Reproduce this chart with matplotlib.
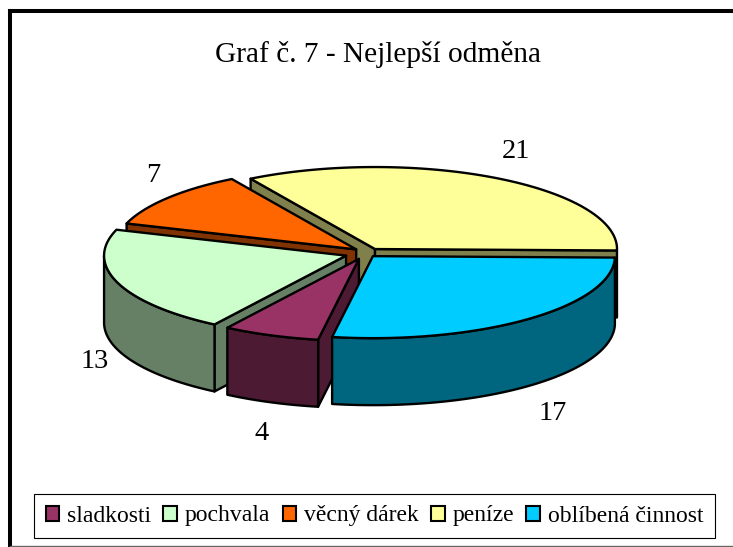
import numpy as np
import matplotlib
matplotlib.use("Agg")
import matplotlib.pyplot as plt
from matplotlib.patches import Polygon, Patch

title = "Graf č. 7 - Nejlepší odměna"
categories = ["sladkosti", "pochvala", "věcný dárek", "peníze", "oblíbená činnost"]
values = [4, 13, 7, 21, 17]
top_colors = ["#993366", "#CCFFCC", "#FF6600", "#FFFF99", "#00CCFF"]
side_colors = ["#4D1A33", "#668066", "#803300", "#80804D", "#006680"]

# pie layout in picture pixels
cx, cy = 364, 252.5
rx, ry = 242, 82
depth = 67
explode = [14, 19, 10, 22, 14]
shift_y = [2, 1, -1, 3, 0]
rotation = 1
draw_order = [3, 2, 1, 0, 4]
label_xy = [(262, 433), (95, 361), (153, 175), (516, 151), (553, 414)]

plt.rcParams["font.family"] = ["Liberation Serif", "DejaVu Serif"]

fig = plt.figure(figsize=(7.33, 5.47), dpi=100)
ax = fig.add_axes([0, 0, 1, 1])
ax.set_xlim(0, 733)
ax.set_ylim(547, 0)
ax.axis("off")

# frame, open on the right
ax.plot([10, 10], [11, 546], color="black", lw=2.9, solid_capstyle="projecting")
ax.plot([10, 733], [11, 11], color="black", lw=2.9, solid_capstyle="projecting")
ax.plot([10, 733], [546, 546], color="#666666", lw=1)

total = sum(values)
shares = np.array(values) / total * 360
ends = rotation + shares[-1] + np.cumsum(shares)
starts = ends - shares
starts = np.where(starts >= 360, starts - 360, starts)
ends = starts + shares


def rim_xy(x0, y0, a):
    t = np.radians(a)
    return x0 + rx * np.cos(t), y0 + ry * np.sin(t)


def add_poly(xs, ys, color, z):
    ax.add_patch(Polygon(np.column_stack([xs, ys]), closed=True, facecolor=color,
                         edgecolor="black", lw=1.7, joinstyle="round", zorder=z))


for z, i in enumerate(draw_order):
    a0, a1 = starts[i], ends[i]
    mid = np.radians((a0 + a1) / 2)
    x0 = cx + explode[i] * np.cos(mid)
    y0 = cy + explode[i] * ry / rx * np.sin(mid) + shift_y[i]
    base = 10 * (z + 1)

    # radial faces that look towards the viewer
    for a, visible in [(a0, np.cos(np.radians(a0)) < 0), (a1, np.cos(np.radians(a1)) > 0)]:
        if visible:
            ex, ey = rim_xy(x0, y0, a)
            add_poly([x0, ex, ex, x0], [y0, ey, ey + depth, y0 + depth], side_colors[i], base)

    # outer wall, front half only
    f0, f1 = max(a0, 0), min(a1, 180)
    if f1 > f0:
        t = np.linspace(f0, f1, 80)
        ex, ey = rim_xy(x0, y0, t)
        add_poly(np.r_[ex, ex[::-1]], np.r_[ey, ey[::-1] + depth], side_colors[i], base + 1)

    # top face
    t = np.linspace(a0, a1, 120)
    ex, ey = rim_xy(x0, y0, t)
    add_poly(np.r_[x0, ex], np.r_[y0, ey], top_colors[i], base + 2)

for v, (lx, ly) in zip(values, label_xy):
    ax.text(lx, ly, str(v), fontsize=20.5, ha="center", va="center", color="black", zorder=100)

ax.text(378, 54, title, fontsize=21.2, ha="center", va="center", color="black", zorder=100)

handles = [Patch(facecolor=c, edgecolor="black", lw=1.5) for c in top_colors]
leg = ax.legend(handles, categories, ncol=5, loc="center", bbox_to_anchor=(374.5, 516),
                bbox_transform=ax.transData, fontsize=17, frameon=True, fancybox=False,
                framealpha=1, edgecolor="black", handlelength=0.58, handleheight=0.6,
                handletextpad=0.33, columnspacing=0.52, borderpad=0.5, borderaxespad=0)
leg.get_frame().set_linewidth(0.8)
leg.set_zorder(100)

fig.savefig("out.png", dpi=100)
